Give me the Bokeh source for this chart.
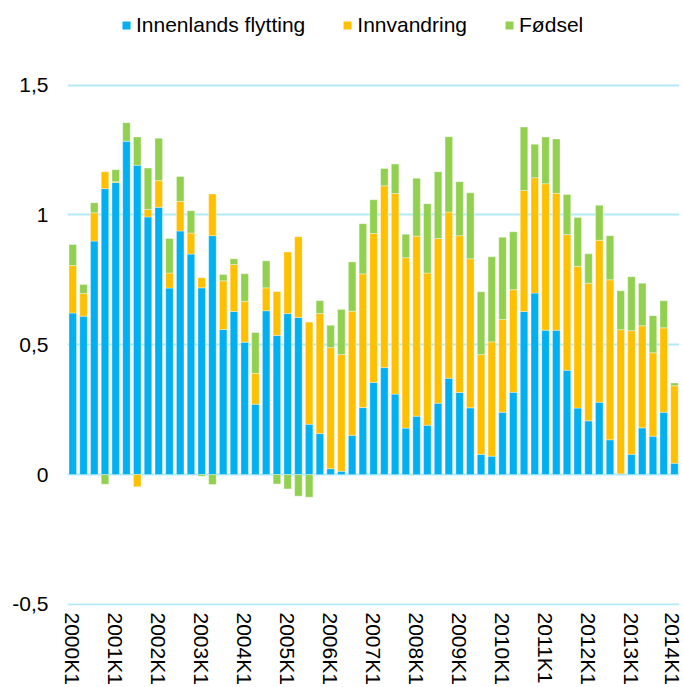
import math
import numpy as np
from bokeh.plotting import figure
from bokeh.layouts import column
from bokeh.models import ColumnDataSource, Range1d, FixedTicker, Legend, LegendItem
from bokeh.embed import file_html
from bokeh.resources import INLINE

# Tick labels (every 4th quarter, 2000K1 .. 2014K1)
tick_labels = ["2000K1", "2001K1", "2002K1", "2003K1", "2004K1", "2005K1", "2006K1",
               "2007K1", "2008K1", "2009K1", "2010K1", "2011K1", "2012K1", "2013K1", "2014K1"]

series_names = ["Innenlands flytting", "Innvandring", "Fødsel"]

innenlands = [0.622, 0.610, 0.899, 1.101, 1.125, 1.284, 1.191, 0.992, 1.029, 0.718,
              0.938, 0.849, 0.719, 0.920, 0.559, 0.628, 0.510, 0.271, 0.631, 0.536,
              0.620, 0.605, 0.194, 0.158, 0.023, 0.013, 0.151, 0.258, 0.355, 0.412,
              0.310, 0.179, 0.225, 0.190, 0.275, 0.371, 0.316, 0.257, 0.078, 0.071,
              0.240, 0.317, 0.628, 0.699, 0.556, 0.556, 0.402, 0.256, 0.207, 0.279,
              0.134, 0.003, 0.078, 0.180, 0.148, 0.240, 0.044]

innvandring = [0.183, 0.087, 0.109, 0.065, 0.003, 0.000, -0.047, 0.029, 0.103, 0.058,
               0.114, 0.081, 0.039, 0.160, 0.187, 0.181, 0.157, 0.119, 0.088, 0.169,
               0.237, 0.311, 0.393, 0.462, 0.466, 0.449, 0.478, 0.515, 0.573, 0.700,
               0.772, 0.656, 0.693, 0.586, 0.634, 0.640, 0.604, 0.574, 0.384, 0.440,
               0.357, 0.395, 0.466, 0.444, 0.564, 0.527, 0.522, 0.546, 0.530, 0.623,
               0.616, 0.555, 0.476, 0.393, 0.321, 0.325, 0.298]

fodsel = [0.081, 0.035, 0.039, -0.037, 0.046, 0.071, 0.109, 0.159, 0.163, 0.133,
          0.096, 0.086, -0.006, -0.038, 0.024, 0.022, 0.106, 0.157, 0.104, -0.036,
          -0.055, -0.083, -0.087, 0.050, 0.086, 0.174, 0.190, 0.193, 0.130, 0.067,
          0.114, 0.090, 0.223, 0.267, 0.257, 0.290, 0.208, 0.254, 0.242, 0.328,
          0.317, 0.223, 0.244, 0.129, 0.180, 0.209, 0.154, 0.188, 0.113, 0.135,
          0.170, 0.150, 0.208, 0.164, 0.143, 0.104, 0.011]

colors = ["#00B0F0", "#FFC000", "#92D050"]
FONT = "Liberation Sans"

n = len(innenlands)
x = np.arange(n)

# ---------- legend strip (top) ----------
lg = figure(width=683, height=56, x_range=Range1d(0, 1), y_range=Range1d(0, 1),
            output_backend="svg", toolbar_location=None,
            x_axis_location=None, y_axis_location=None,
            min_border=0, min_border_left=0, min_border_right=0,
            min_border_top=0, min_border_bottom=0)
lg.outline_line_color = None
lg.xgrid.grid_line_color = None
lg.ygrid.grid_line_color = None
lg.background_fill_alpha = 0
lg.border_fill_alpha = 0
# legend-only placeholder glyphs (zero height, invisible)
dummy = []
for col in colors:
    dummy.append(lg.vbar(x=[0.5], bottom=[0], top=[0], width=0.01, fill_color=col,
                         line_color=None))
legend = Legend(items=[LegendItem(label=nm, renderers=[r]) for nm, r in zip(series_names, dummy)],
                orientation="horizontal", location=(54, 19),
                glyph_width=10, glyph_height=10, label_standoff=5, spacing=37,
                padding=0, margin=0, border_line_color=None, background_fill_alpha=0,
                label_text_font=FONT, label_text_font_size="21px",
                label_text_color="#000000", label_height=21)
lg.add_layout(legend)

# ---------- main chart ----------
p = figure(width=683, height=631,
           x_range=Range1d(-0.49, 56.47), y_range=Range1d(-0.5039, 1.5212),
           output_backend="svg", toolbar_location=None,
           min_border_left=67, min_border_right=4, min_border_top=23, min_border_bottom=82)
p.outline_line_color = None

pos = np.zeros(n)
neg = np.zeros(n)
for vals, col in zip([innenlands, innvandring, fodsel], colors):
    v = np.array(vals, dtype=float)
    bottom = np.where(v >= 0, pos, neg + v)
    top = np.where(v >= 0, pos + v, neg)
    pos = np.where(v >= 0, pos + v, pos)
    neg = np.where(v < 0, neg + v, neg)
    src = ColumnDataSource(dict(x=x, bottom=bottom, top=top))
    p.vbar(x="x", bottom="bottom", top="top", width=0.7, source=src,
           fill_color=col, line_color="white", line_width=0.5, line_alpha=0.7)

# grid
p.xgrid.grid_line_color = None
p.ygrid.ticker = FixedTicker(ticks=[-0.5, 0, 0.5, 1, 1.5])
p.ygrid.grid_line_color = "#B3EAF7"
p.ygrid.grid_line_width = 2

# y axis
p.yaxis.ticker = FixedTicker(ticks=[-0.5, 0, 0.5, 1, 1.5])
p.yaxis.major_label_overrides = {-0.5: "-0,5", 0: "0", 0.5: "0,5", 1: "1", 1.5: "1,5"}
p.yaxis.axis_line_color = None
p.yaxis.major_tick_line_color = None
p.yaxis.minor_tick_line_color = None
p.yaxis.major_tick_out = 0
p.yaxis.major_tick_in = 0
p.yaxis.minor_tick_out = 0
p.yaxis.major_label_standoff = 19
p.yaxis.major_label_text_font = FONT
p.yaxis.major_label_text_font_size = "21px"
p.yaxis.major_label_text_color = "#000000"

# x axis
xt = [i * 4 for i in range(len(tick_labels))]
p.xaxis.ticker = FixedTicker(ticks=xt)
p.xaxis.major_label_overrides = {t: lab for t, lab in zip(xt, tick_labels)}
p.xaxis.major_label_orientation = -math.pi / 2
p.xaxis.axis_line_color = None
p.xaxis.major_tick_line_color = None
p.xaxis.minor_tick_line_color = None
p.xaxis.major_tick_out = 0
p.xaxis.major_tick_in = 0
p.xaxis.minor_tick_out = 0
p.xaxis.major_label_standoff = 7
p.xaxis.major_label_text_font = FONT
p.xaxis.major_label_text_font_size = "21px"
p.xaxis.major_label_text_color = "#000000"

layout = column(lg, p, spacing=0)
open("out.html", "w").write(file_html(layout, INLINE))
